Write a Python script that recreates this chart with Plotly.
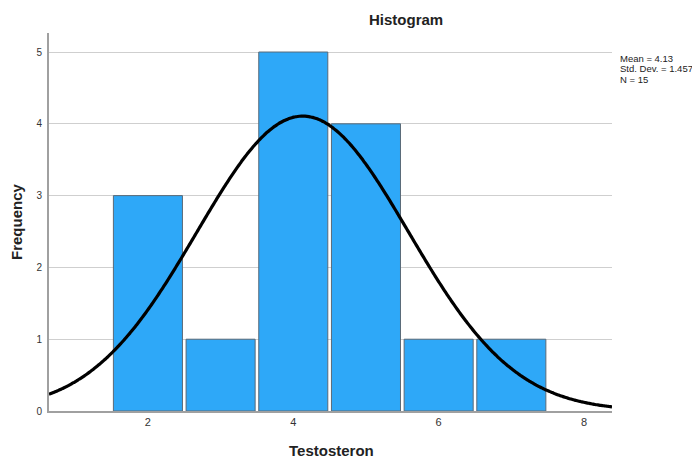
import numpy as np
import plotly.graph_objects as go

# Data
bin_centers = [2, 3, 4, 5, 6, 7]
frequencies = [3, 1, 5, 4, 1, 1]
mean_val = 4.13
std_val = 1.457
n_val = 15
bin_width = 1.0

x_ticks = [2, 4, 6, 8]
y_ticks = [0, 1, 2, 3, 4, 5]

x_range = [0.639, 8.385]
y_range = [0, 5.265]

stats_lines = ["Mean = %.2f" % mean_val, "Std. Dev. = %.3f" % std_val, "N = %d" % n_val]

# Fitted normal curve (from the stated mean, SD and N)
xc = np.linspace(x_range[0], x_range[1], 300)
yc = n_val * bin_width / (std_val * np.sqrt(2 * np.pi)) * np.exp(-0.5 * ((xc - mean_val) / std_val) ** 2)

# The page has an 8px body margin, so the figure sits at (8, 8) in the window.
OFF = 8
W, H = 700 - OFF, 459 - OFF
l, r, t, b = 49 - OFF, 88, 33 - OFF, 48
pw, ph = W - l - r, H - t - b


def px(x, y):
    """page-pixel position -> paper coords"""
    return (x - OFF - l) / pw, (H - b - (y - OFF)) / ph


fig = go.Figure()
fig.add_trace(go.Bar(
    x=bin_centers, y=frequencies, width=0.95,
    marker=dict(color="#2EA8F8", line=dict(color="#5a6a78", width=1)),
    hoverinfo="x+y",
))
fig.add_trace(go.Scatter(
    x=xc, y=yc, mode="lines",
    line=dict(color="black", width=3.2, shape="spline"),
    hoverinfo="skip",
))

tx, ty = px(405.5, 20)
xx, xy = px(331, 450)
yx, yy = px(16, 222)

annotations = [
    dict(text="<b>Histogram</b>", x=tx, y=ty, xref="paper", yref="paper",
         xanchor="center", yanchor="middle",
         showarrow=False, font=dict(size=15, color="#222")),
    dict(text="<b>Testosteron</b>", x=xx, y=xy, xref="paper", yref="paper",
         xanchor="center", yanchor="middle",
         showarrow=False, font=dict(size=15, color="#222")),
    dict(text="<b>Frequency</b>", x=yx, y=yy, xref="paper", yref="paper",
         xanchor="center", yanchor="middle",
         textangle=-90, showarrow=False, font=dict(size=15, color="#222")),
]
for i, s in enumerate(stats_lines):
    sx, sy = px(618, 58 + 10.5 * i)
    annotations.append(dict(text=s, x=sx, y=sy, xref="paper", yref="paper",
                            xanchor="left", yanchor="middle", showarrow=False,
                            font=dict(size=9.5, color="#222")))

fig.update_layout(
    width=W, height=H,
    margin=dict(l=l, r=r, t=t, b=b, autoexpand=False),
    paper_bgcolor="white", plot_bgcolor="white",
    showlegend=False,
    font=dict(family="Arial, Liberation Sans, sans-serif", color="#222"),
    xaxis=dict(
        range=x_range, tickvals=x_ticks, showgrid=False, zeroline=False,
        showline=True, linecolor="#a0a0a0", linewidth=2,
        ticks="", tickfont=dict(size=11, color="#333"),
    ),
    yaxis=dict(
        range=y_range, tickvals=y_ticks, showgrid=True, gridcolor="#cfcfcf", gridwidth=1,
        zeroline=False, showline=True, linecolor="#a0a0a0", linewidth=2,
        ticks="", tickfont=dict(size=10, color="#333"), ticklabelstandoff=3,
    ),
    annotations=annotations,
)

fig.write_html("out.html")
